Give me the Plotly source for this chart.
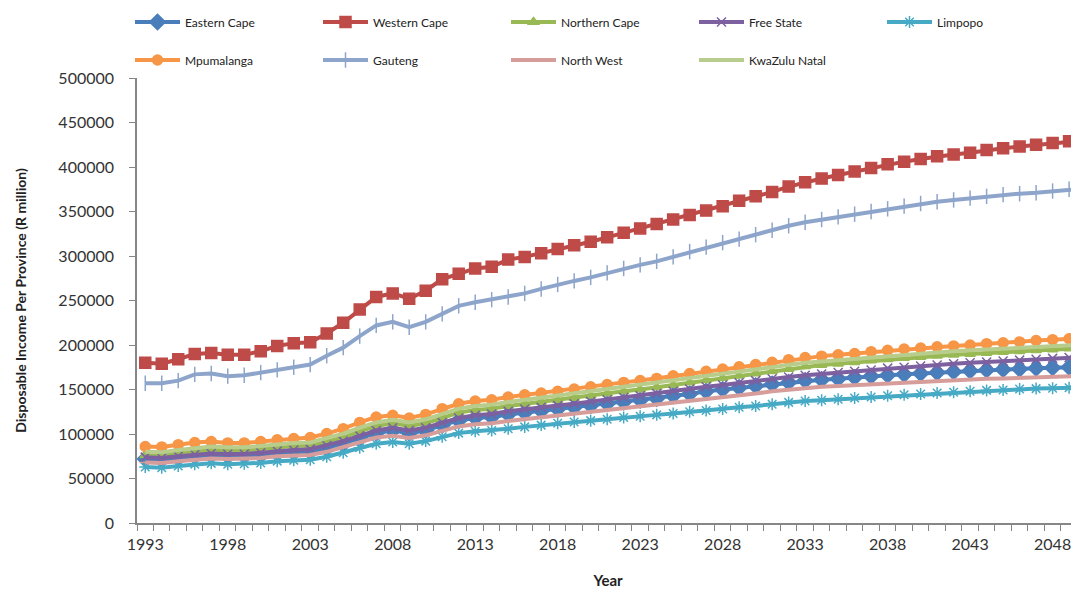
import plotly.graph_objects as go

years = list(range(1993, 2051))

eastern_cape = [72000, 71000, 73000, 75000, 76000, 75000, 75000, 76000, 78000, 79000,
                80000, 84000, 89000, 95000, 101000, 104000, 101000, 104000, 110000, 115000,
                118000, 119000, 122000, 124000, 126000, 128000, 130000, 132000, 134000, 136000,
                138000, 140000, 143000, 145000, 148000, 150000, 152000, 154000, 156000, 158000,
                160000, 161000, 162000, 163500, 165000, 166000, 167000, 168000, 169000, 170000,
                171000, 172000, 172500, 173000, 174000, 174500, 175000, 175500]
western_cape = [180000, 179000, 184000, 190000, 191000, 189000, 189000, 193000, 199000, 202000,
                203000, 213000, 225000, 240000, 254000, 258000, 252000, 261000, 274000, 280000,
                286000, 288000, 296000, 299000, 303000, 308000, 312000, 316000, 321000, 326000,
                331000, 336000, 341000, 346000, 351000, 356000, 362000, 367000, 372000, 378000,
                383000, 387000, 391000, 395000, 399000, 403000, 406000, 409000, 412000, 414000,
                416000, 419000, 421000, 423000, 425000, 427000, 429000, 430000]
northern_cape = [76000, 75500, 78000, 80500, 82000, 81500, 81500, 83000, 85000, 86500,
                 87000, 91000, 96000, 103000, 109000, 112000, 109000, 112000, 118500, 124000,
                 127000, 128500, 131500, 134000, 136000, 138000, 140500, 143000, 145500, 148000,
                 150000, 152500, 155000, 158000, 160500, 163000, 165500, 168000, 170500, 173000,
                 176000, 177500, 179000, 180500, 182500, 184000, 185500, 186500, 188000, 189000,
                 190000, 191000, 192000, 193000, 194000, 195000, 196000, 196500]
free_state = [74000, 73000, 75000, 77000, 78000, 77500, 77500, 79000, 81000, 82000,
              83000, 87000, 92000, 98000, 104000, 107000, 104000, 107000, 113000, 118000,
              121000, 122500, 125500, 128000, 130000, 132000, 134000, 136500, 138500, 141000,
              143000, 145500, 148000, 150500, 153000, 155000, 157500, 160000, 162000, 164000,
              166000, 167500, 169000, 170500, 172000, 174000, 175000, 176500, 177500, 179000,
              180000, 181000, 182000, 183000, 184000, 185000, 186000, 186500]
limpopo = [63000, 62000, 64000, 66000, 67000, 66000, 66500, 67500, 69500, 70500,
           71000, 74500, 79000, 84500, 89000, 91000, 89000, 92000, 97000, 101000,
           103000, 104000, 106000, 108000, 110000, 112000, 113500, 115000, 116500, 118500,
           120000, 121500, 123000, 125000, 126500, 128000, 130000, 131500, 133500, 135500,
           137000, 138000, 139000, 140500, 141500, 143000, 144000, 145000, 146000, 147000,
           148000, 149000, 149500, 150500, 151000, 151500, 152000, 152500]
mpumalanga = [86000, 85500, 88000, 90500, 91500, 90000, 90000, 91500, 93500, 95000,
              96000, 100500, 106000, 113000, 119000, 121000, 118000, 122000, 128500, 134000,
              137000, 138500, 141500, 144000, 146000, 148000, 150500, 153000, 155500, 158000,
              160000, 162500, 165500, 168000, 170500, 173000, 175500, 178000, 180500, 183500,
              186000, 187500, 189000, 190500, 192500, 194000, 195500, 196500, 198000, 199000,
              200000, 201500, 202500, 203500, 205000, 206000, 207000, 208000]
gauteng = [157000, 157000, 160000, 167000, 168000, 165000, 166000, 169000, 172000, 175000,
           178000, 188000, 197000, 210000, 222000, 226000, 220000, 226000, 235000, 244000,
           248000, 251000, 254000, 258000, 263000, 268000, 272000, 276000, 281000, 286000,
           290000, 294000, 299000, 305000, 310000, 315000, 319000, 324000, 329000, 334000,
           338000, 341000, 344000, 347000, 350000, 353000, 356000, 359000, 361000, 363000,
           365000, 367000, 369000, 370000, 371000, 373000, 375000, 376000]
north_west = [68000, 67500, 69500, 71500, 72500, 72000, 72000, 73000, 75000, 76000,
              76500, 80000, 85000, 90500, 96000, 98000, 95500, 98500, 104000, 108500,
              111000, 112000, 114500, 116500, 119000, 121000, 123000, 125000, 127000, 129000,
              131000, 133000, 135000, 137000, 139000, 141000, 143000, 145500, 148000, 150000,
              152000, 153000, 154000, 155000, 156000, 157000, 158000, 159000, 160000, 160500,
              161000, 162000, 162500, 163000, 163500, 164000, 165000, 165500]
kwazulu_natal = [80000, 79500, 82000, 84500, 86000, 85000, 85000, 86500, 88500, 90000,
                 90500, 95000, 100500, 107000, 113000, 116000, 113000, 116500, 123000, 128500,
                 131500, 133000, 136000, 138500, 141000, 143000, 145500, 148000, 150500, 153000,
                 155000, 157500, 160500, 163000, 165500, 168000, 170500, 173000, 175500, 178000,
                 180000, 181500, 183000, 185000, 186500, 188000, 189500, 190500, 192000, 193000,
                 194000, 195000, 196000, 197000, 198000, 199000, 200000, 200500]

tick_years = list(range(1993, 2050, 5))
y_ticks = list(range(0, 500001, 50000))

series = [
    ("Eastern Cape", eastern_cape, "#4a7ebb", "diamond", 12, "legend"),
    ("Western Cape", western_cape, "#be4b48", "square", 11, "legend"),
    ("Northern Cape", northern_cape, "#98b954", "triangle-up", 9, "legend"),
    ("Free State", free_state, "#7d60a0", "x-thin-open", 9, "legend"),
    ("Limpopo", limpopo, "#46aac5", "asterisk-open", 10, "legend"),
    ("Mpumalanga", mpumalanga, "#f79646", "circle", 10, "legend2"),
    ("Gauteng", gauteng, "#8ea5cb", "line-ns-open", 11, "legend2"),
    ("North West", north_west, "#d69d9b", "line-ew-open", 8, "legend2"),
    ("KwaZulu Natal", kwazulu_natal, "#b8cc8c", "circle", 0, "legend2"),
]

fig = go.Figure()
for name, vals, color, sym, size, lg in series:
    assert len(vals) == len(years), name
    fig.add_trace(go.Scatter(
        x=years, y=vals, name=name, mode="lines+markers" if size else "lines",
        line=dict(color=color, width=4),
        marker=dict(symbol=sym, size=size, color=color,
                    line=dict(color=color, width=1.5)),
        legend=lg,
    ))

legend_common = dict(orientation="h", xanchor="left", yanchor="middle",
                     xref="container", yref="container",
                     entrywidth=128, entrywidthmode="pixels",
                     font=dict(family="Lato, Open Sans, sans-serif", size=12, color="#222"),
                     bgcolor="rgba(0,0,0,0)", itemwidth=45, tracegroupgap=0)

fig.update_layout(
    width=1079, height=592,
    margin=dict(l=129, r=8, t=70, b=77, autoexpand=False),
    paper_bgcolor="white", plot_bgcolor="white",
    font=dict(family="Lato, Open Sans, sans-serif", color="#333"),
    legend=dict(x=122 / 1079, y=1 - 14 / 592, **legend_common),
    legend2=dict(x=122 / 1079, y=1 - 52 / 592, **legend_common),
    xaxis=dict(
        range=[1992.5, 2049.6], tickmode="array", tickvals=tick_years,
        ticktext=[str(t) for t in tick_years], automargin=False,
        ticks="outside", ticklen=0, showgrid=False, zeroline=False,
        showline=True, linecolor="#868686", linewidth=1.5,
        tickfont=dict(size=16, color="#333"), ticklabelstandoff=6,
        minor=dict(tick0=1992.5, dtick=1, ticks="outside", ticklen=6,
                   tickcolor="#868686", showgrid=False),
        title=dict(text="<b>Year</b>", font=dict(size=15, color="#222"), standoff=24),
    ),
    yaxis=dict(
        range=[0, 500000], tickmode="array", tickvals=y_ticks,
        ticktext=[str(v) for v in y_ticks], automargin=False,
        ticks="outside", ticklen=6, tickcolor="#868686",
        showgrid=False, zeroline=False, showline=True,
        linecolor="#868686", linewidth=1.5,
        tickfont=dict(size=16, color="#333"), ticklabelstandoff=12,
        title=dict(text="<b>Disposable Income Per Province (R million)</b>",
                   font=dict(size=14, color="#222"), standoff=28),
    ),
)

fig.write_html("out.html")
